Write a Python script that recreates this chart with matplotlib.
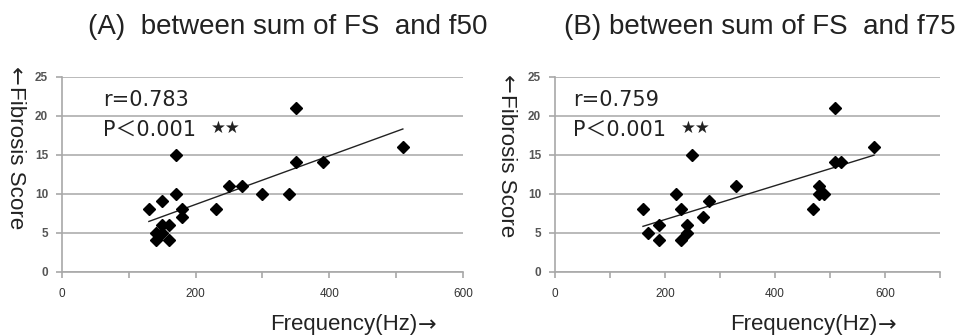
import numpy as np
import matplotlib
matplotlib.use("Agg")
import matplotlib.pyplot as plt

plt.rcParams['font.family'] = ['Liberation Sans', 'Noto Sans CJK JP', 'DejaVu Sans']

# Panel A: f50 vs fibrosis score
f50_hz = [130, 140, 140, 150, 150, 150, 160, 160, 170, 170, 180, 180,
          230, 250, 270, 300, 340, 350, 350, 390, 510]
f50_score = [8, 5, 4, 9, 6, 5, 6, 4, 15, 10, 8, 7,
             8, 11, 11, 10, 10, 21, 14, 14, 16]

# Panel B: f75 vs fibrosis score
f75_hz = [160, 170, 190, 190, 220, 230, 230, 240, 240, 250, 270, 280,
          330, 470, 480, 480, 490, 510, 510, 520, 580]
f75_score = [8, 5, 6, 4, 10, 8, 4, 6, 5, 15, 7, 9,
             11, 8, 11, 10, 10, 21, 14, 14, 16]

titles = ["(A)  between sum of FS  and f50", "(B) between sum of FS  and f75"]
r_labels = ["r=0.783", "r=0.759"]
p_label = "P\uff1c0.001"
stars = "\u2605\u2605"
ylabel = "Fibrosis Score"
xlabel = "Frequency(Hz)"
xmaxes = [600, 700]
xticks_major = [0, 200, 400, 600]
yticks = [0, 5, 10, 15, 20, 25]

fig = plt.figure(figsize=(9.58, 3.36), dpi=100)
positions = [[0.0647, 0.1914, 0.4186, 0.5804], [0.5793, 0.1914, 0.4019, 0.5804]]
text_x = [0.102, 0.046]
ylab_pos = [(0.0157, 0.53), (0.529, 0.506)]
xlab_pos = [(0.2818, 0.033), (0.762, 0.033)]
title_pos = [(0.300, 0.92), (0.793, 0.92)]
datasets = [(f50_hz, f50_score), (f75_hz, f75_score)]
label_font = ['DejaVu Sans', 'Noto Sans CJK JP']

for i, (xs, ys) in enumerate(datasets):
    ax = fig.add_axes(positions[i])
    ax.set_xlim(0, xmaxes[i])
    ax.set_ylim(0, 25)
    ax.set_yticks(yticks)
    ax.set_xticks(xticks_major)
    ax.set_xticks(np.arange(0, xmaxes[i] + 1, 100), minor=True)
    for s in ['top', 'right']:
        ax.spines[s].set_visible(False)
    for s in ['left', 'bottom']:
        ax.spines[s].set_color('#a8a8a8')
        ax.spines[s].set_linewidth(1.2)
    ax.grid(axis='y', color='#b4b4b4', linewidth=1.3)
    ax.set_axisbelow(True)
    ax.tick_params(axis='both', which='both', colors='#a8a8a8', length=4, width=1.2)
    ax.tick_params(axis='x', pad=8, labelcolor='#333333', labelsize=8.5)
    ax.tick_params(axis='y', pad=6, labelcolor='#555555', labelsize=8.5)
    for lab in ax.get_yticklabels():
        lab.set_fontweight('bold')

    x = np.array(xs, dtype=float)
    y = np.array(ys, dtype=float)
    m, b = np.polyfit(x, y, 1)
    xl = np.array([x.min(), x.max()])
    ax.plot(xl, m * xl + b, color='#222222', linewidth=1.0, zorder=2)
    ax.plot(x, y, linestyle='none', marker='D', markersize=6, color='black', zorder=3)

    ax.text(text_x[i], 0.88, r_labels[i], transform=ax.transAxes, family=label_font,
            fontsize=15, color='#222222', va='center', ha='left')
    pt = ax.text(text_x[i], 0.727, p_label, transform=ax.transAxes, family=label_font,
                 fontsize=15, color='#222222', va='center', ha='left')
    ax.annotate(stars, xy=(1, 0.6), xycoords=pt, xytext=(11, 0), textcoords='offset points',
                family=['DejaVu Sans'], fontsize=12, color='#222222', va='center', ha='left')

    # title
    fig.text(title_pos[i][0], title_pos[i][1], titles[i], fontsize=20,
             ha='center', va='center', color='#222222')
    # y label with arrow on top
    yl = fig.text(ylab_pos[i][0], ylab_pos[i][1], ylabel, rotation=270, fontsize=16.1,
                  ha='center', va='center', color='#222222')
    ax.annotate("\u2190", xy=(0.5, 1.0), xycoords=yl, xytext=(0, 0.5),
                textcoords='offset points', family=['DejaVu Sans'], fontsize=16.1,
                rotation=270, ha='center', va='bottom', color='#222222')
    # x label with arrow on right
    xlb = fig.text(xlab_pos[i][0], xlab_pos[i][1], xlabel, fontsize=16,
                   ha='left', va='center', color='#222222')
    ax.annotate("\u2192", xy=(1.0, 0.5), xycoords=xlb, xytext=(0.5, 0),
                textcoords='offset points', family=['DejaVu Sans'], fontsize=16,
                ha='left', va='center', color='#222222')

fig.savefig("out.png", dpi=100)
